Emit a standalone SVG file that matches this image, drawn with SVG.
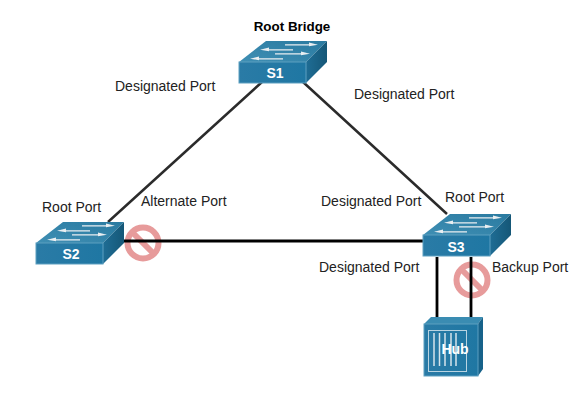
<svg xmlns="http://www.w3.org/2000/svg" width="584" height="401" viewBox="0 0 584 401">
<style>
text{font-family:"Liberation Sans",Arial,sans-serif;font-size:14px;fill:#222}
.b{font-weight:700;fill:#000;font-size:13.400px}
.n{font-weight:700;fill:#fff;font-size:14px;text-anchor:middle}
.l{fill:none;stroke:#2b2b2b;stroke-width:2.500}
.k{fill:none;stroke:#000;stroke-width:2.800}
.front{fill:url(#fr);stroke:#5d9fc0;stroke-width:1}
.top{fill:url(#tp)}
.side{fill:url(#sd)}
.no{fill:none;stroke:#e79b9b;stroke-width:6}
</style>
<defs>
<linearGradient id="fr" x1="0" x2="1" y1="0" y2="0"><stop offset="0" stop-color="#2a7ba6"/><stop offset="1" stop-color="#1f77a3"/></linearGradient>
<linearGradient id="tp" x1="0" x2="1" y1="1" y2="0"><stop offset="0" stop-color="#3f8fb4"/><stop offset="1" stop-color="#2a7aa0"/></linearGradient>
<linearGradient id="sd" x1="0" x2="1" y1="0" y2="0"><stop offset="0" stop-color="#1f6d95"/><stop offset="1" stop-color="#155777"/></linearGradient>
<g id="sw">
<polygon class="top" points="0,21 27,0 88,0 67,21"/>
<polygon class="side" points="67,21 88,0 88,21 67,42"/>
<rect class="front" x="0" y="21" width="67" height="21"/>
<path fill="#e9eef1" d="M46,3.200H70V1.500L79,3.700L70,5.200V4.400H46ZM54,8.200H30V6.500L21,8.700L30,10.200V9.500H54ZM36,12.200H62V10.500L71,12.700L62,14.200V13.500H36ZM44,17.200H20V15.500L11,17.700L20,19.200V18.500H44Z"/>
</g>
<g id="ban"><circle r="15.500" class="no"/><path class="no" d="M-10.500,-10.500L10.500,10.500"/></g>
</defs>
<use id="block-s2" href="#ban" x="143" y="243"/>
<use id="block-s3" href="#ban" x="472" y="280"/>
<g id="connectors">
<path class="l" d="M262,82L108,222M303,82L447,214"/>
<path class="k" d="M124,241H423M437,257V318M471,257V318"/>
</g>
<g id="s1"><use href="#sw" x="239" y="41"/><text class="n" x="275" y="78">S1</text></g>
<g id="s2"><use href="#sw" x="36" y="222"/><text class="n" x="71" y="259">S2</text></g>
<g id="s3"><use href="#sw" x="423" y="214"/><text class="n" x="456" y="252">S3</text></g>
<g id="hub">
<polygon fill="#3a8cb2" points="424,324 431,317 483,317 478,324"/>
<polygon fill="#17628a" points="478,324 483,317 483,369 478,376"/>
<rect class="front" x="424" y="324" width="54" height="52"/>
<rect x="428.500" y="330.500" width="38" height="41" fill="none" stroke="#b9d4e2" stroke-width="1"/>
<path d="M434,333V366M439.500,333V366M445,333V366M451,333V366M456,333V366" stroke="#d5e4ec" stroke-width="1.500"/>
<text class="n" x="455" y="354">Hub</text>
</g>
<g id="labels">
<text class="b" x="292" y="31" text-anchor="middle">Root Bridge</text>
<text x="115" y="91">Designated Port</text>
<text x="354" y="99">Designated Port</text>
<text x="42" y="212">Root Port</text>
<text x="141" y="206">Alternate Port</text>
<text x="321" y="206">Designated Port</text>
<text x="445" y="202">Root Port</text>
<text x="319" y="272">Designated Port</text>
<text x="492" y="272">Backup Port</text>
</g>
</svg>
